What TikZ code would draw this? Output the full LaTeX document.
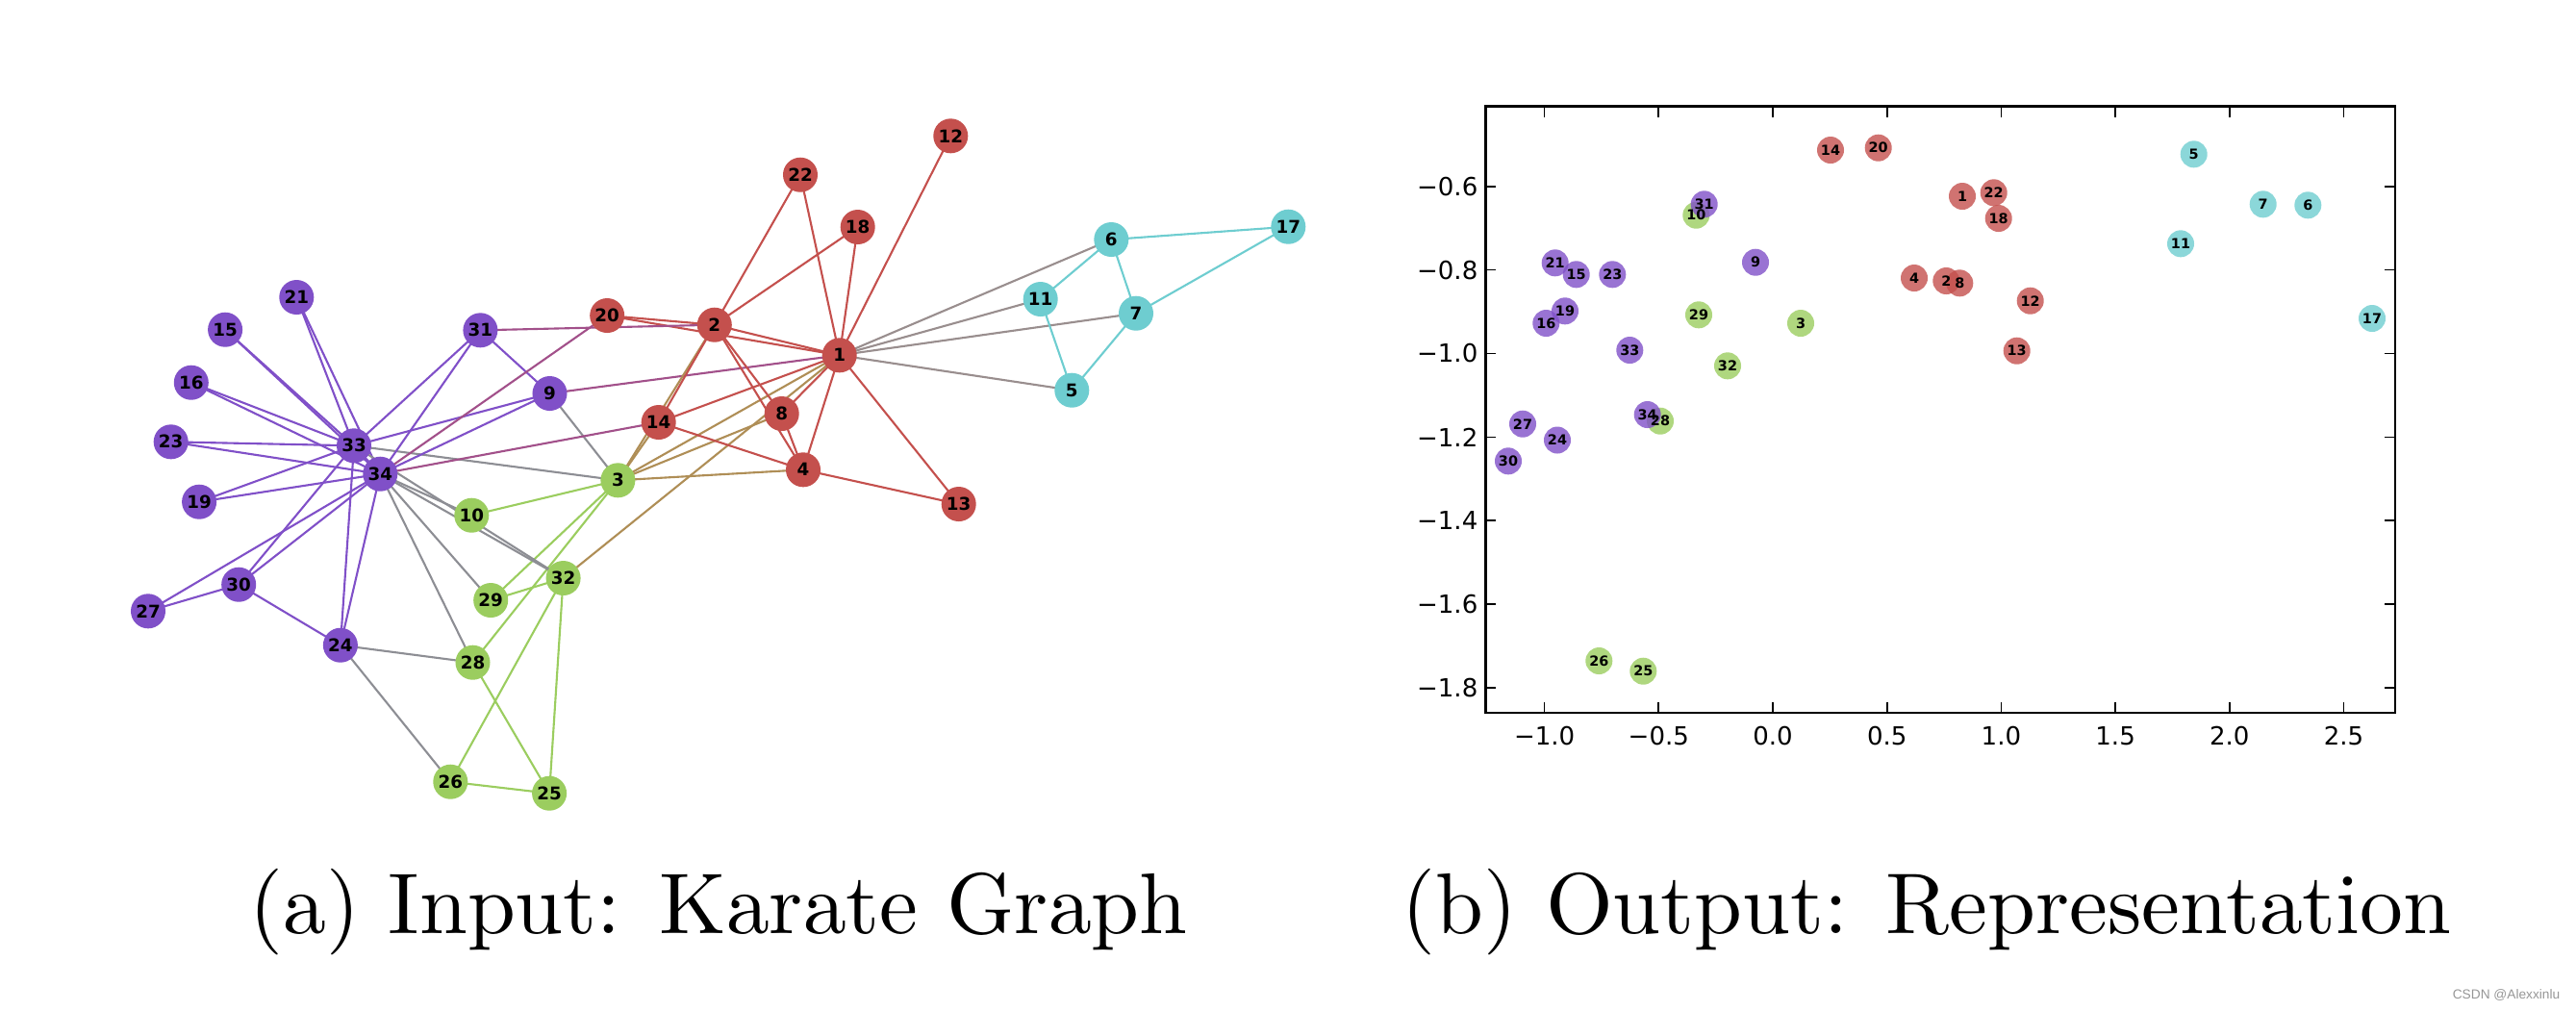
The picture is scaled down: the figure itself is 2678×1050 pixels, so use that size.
\documentclass[tikz,border=0pt]{standalone}
\usepackage{fontspec}
\newfontfamily\djv{DejaVu Sans}
\newfontfamily\libsans{Liberation Sans}
\pgfdeclarelayer{bg}
\pgfsetlayers{bg,main}
\definecolor{cR}{RGB}{196,80,77}
\definecolor{cP}{RGB}{128,80,200}
\definecolor{cG}{RGB}{155,205,95}
\definecolor{cC}{RGB}{110,205,208}
\definecolor{wmgray}{RGB}{150,150,150}
\colorlet{eRR}{cR}
\colorlet{ePP}{cP}
\colorlet{eGG}{cG}
\colorlet{eCC}{cC}
\colorlet{eRG}{cR!50!cG}
\colorlet{eRP}{cR!50!cP}
\colorlet{eRC}{cR!50!cC}
\colorlet{eGP}{cG!50!cP}
\tikzset{
  lnode/.style={circle, inner sep=0pt, minimum size=0.36cm, font=\djv\bfseries\fontsize{5.2}{5.2}\selectfont},
  rnode/.style={circle, inner sep=0pt, minimum size=0.28cm, fill opacity=0.8},
  rlab/.style={inner sep=0pt, font=\djv\bfseries\fontsize{4.1}{4.1}\selectfont},
  ledge/.style={line width=0.6pt},
  ticklab/.style={inner sep=0pt, font=\djv\fontsize{7.4}{8}\selectfont},
  tickmark/.style={line width=0.5pt},
  spine/.style={line width=0.8pt},
  caption/.style={inner sep=0pt, font=\fontsize{10}{12}\selectfont}
}
\begin{document}
\begin{tikzpicture}[x=0.01cm,y=-0.01cm]
\useasboundingbox (0,0) rectangle (2678,1050);

% ---------- left: karate graph ----------
\foreach \i/\x/\y/\c in {
 1/872.7/369.3/R, 2/742.8/337.7/R, 3/642.4/499.3/G, 4/835/488.3/R,
 5/1114.3/405.7/C, 6/1155.3/249/C, 7/1181/325.7/C, 8/812.7/430/R,
 9/571.5/409/P, 10/490.3/535.7/G, 11/1081.7/311/C, 12/988.3/141.3/R,
 13/996.7/524/R, 14/684.7/439/R, 15/234.1/342.7/P, 16/198.8/397.7/P,
 17/1339.3/235.7/C, 18/891.7/236/R, 19/207.1/521.7/P, 20/631.2/328/R,
 21/308.3/309/P, 22/832/181.7/R, 23/177.7/459.3/P, 24/353.9/670.7/P,
 25/571.1/824.7/G, 26/468.3/812.7/G, 27/154/635.3/P, 28/491.5/688.7/G,
 29/510.2/624/G, 30/248.2/607.7/P, 31/499.4/343.3/P, 32/585.6/601/G,
 33/368/463.3/P, 34/395.3/492.7/P}
  \node[lnode, fill=c\c] (n\i) at (\x,\y) {\i};

\begin{pgfonlayer}{bg}
\foreach \a/\b/\c in {
 1/2/RR, 1/3/RG, 1/4/RR, 1/5/RC, 1/6/RC, 1/7/RC, 1/8/RR, 1/9/RP, 1/11/RC,
 1/12/RR, 1/13/RR, 1/14/RR, 1/18/RR, 1/20/RR, 1/22/RR, 1/32/RG,
 2/3/RG, 2/4/RR, 2/8/RR, 2/14/RR, 2/18/RR, 2/20/RR, 2/22/RR, 2/31/RP,
 3/4/RG, 3/8/RG, 3/9/GP, 3/10/GG, 3/14/RG, 3/28/GG, 3/29/GG, 3/33/GP,
 4/8/RR, 4/13/RR, 4/14/RR,
 5/7/CC, 5/11/CC, 6/7/CC, 6/11/CC, 6/17/CC, 7/17/CC,
 9/31/PP, 9/33/PP, 9/34/PP, 10/34/GP, 14/34/RP,
 15/33/PP, 15/34/PP, 16/33/PP, 16/34/PP, 19/33/PP, 19/34/PP, 20/34/RP,
 21/33/PP, 21/34/PP, 23/33/PP, 23/34/PP,
 24/26/GP, 24/28/GP, 24/30/PP, 24/33/PP, 24/34/PP,
 25/26/GG, 25/28/GG, 25/32/GG, 26/32/GG, 27/30/PP, 27/34/PP, 28/34/GP,
 29/32/GG, 29/34/GP, 30/33/PP, 30/34/PP, 31/33/PP, 31/34/PP,
 32/33/GP, 32/34/GP, 33/34/PP}
  \draw[ledge, draw=e\c] (n\a.center) -- (n\b.center);
\end{pgfonlayer}

% ---------- right: representation ----------
\draw[spine] (1544.3,110.7) rectangle (2490,741);
\foreach \x in {1605.6,1724.3,1843,1961.7,2080.4,2199.1,2317.8,2436.5} {
  \draw[tickmark] (\x,741) -- ++(0,-11);
  \draw[tickmark] (\x,110.7) -- ++(0,11);
}
\foreach \y in {193.7,280.6,367.5,454.4,541.3,628.2,715.1} {
  \draw[tickmark] (1544.3,\y) -- ++(11,0);
  \draw[tickmark] (2490,\y) -- ++(-11,0);
}
\foreach \x/\t [count=\k] in {1605.6/−1.0,1724.3/−0.5,1843/0.0,1961.7/0.5,2080.4/1.0,2199.1/1.5,2317.8/2.0,2436.5/2.5}
  \node[ticklab] (xt\k) at (\x,765) {\t};
\foreach \y/\t [count=\k] in {193.7/−0.6,280.6/−0.8,367.5/−1.0,454.4/−1.2,541.3/−1.4,628.2/−1.6,715.1/−1.8}
  \node[ticklab, anchor=east] (yt\k) at (1537,\y) {\t};

\foreach \i/\x/\y/\c in {
 1/2040/204/R, 2/2023.3/292/R, 3/1872/336/G, 4/1990/289/R,
 5/2280.7/160.3/C, 6/2399.3/213.3/C, 7/2352.7/212.3/C, 8/2037.3/294.3/R,
 9/1825/272.7/P, 10/1763.3/223.7/G, 11/2267/253.3/C, 12/2110.7/312.7/R,
 13/2096.7/364.7/R, 14/1903/156/R, 15/1638.7/285.3/P, 16/1607.3/336/P,
 17/2466/331/C, 18/2077.7/227/R, 19/1627/323.3/P, 20/1952.7/153.7/R,
 21/1616.7/273.3/P, 22/2072.7/200.3/R, 23/1676.3/285.3/P, 24/1619/457.5/P,
 25/1708.3/697.7/G, 26/1662.3/687/G, 27/1583/440.7/P, 28/1726/437.7/G,
 29/1766/327.3/G, 30/1568/479.3/P, 31/1771.7/212.3/P, 32/1796/380.3/G,
 33/1694.3/364/P, 34/1712.7/431/P}
  \node[rnode, fill=c\c] (m\i) at (\x,\y) {};
\foreach \i in {1,...,34}
  \node[rlab] (l\i) at (m\i.center) {\i};

% ---------- captions ----------
\node[caption, anchor=base] (capa) at (747,970) {\scalebox{2.55}{(a) Input: Karate Graph}};
\node[caption, anchor=base] (capb) at (2003,970) {\scalebox{2.55}{(b) Output: Representation}};
\node[inner sep=0pt, anchor=base east, text=wmgray, font=\libsans\fontsize{3.9}{4}\selectfont] (wm) at (2662,1038) {CSDN @Alexxinlu};
\end{tikzpicture}
\end{document}
